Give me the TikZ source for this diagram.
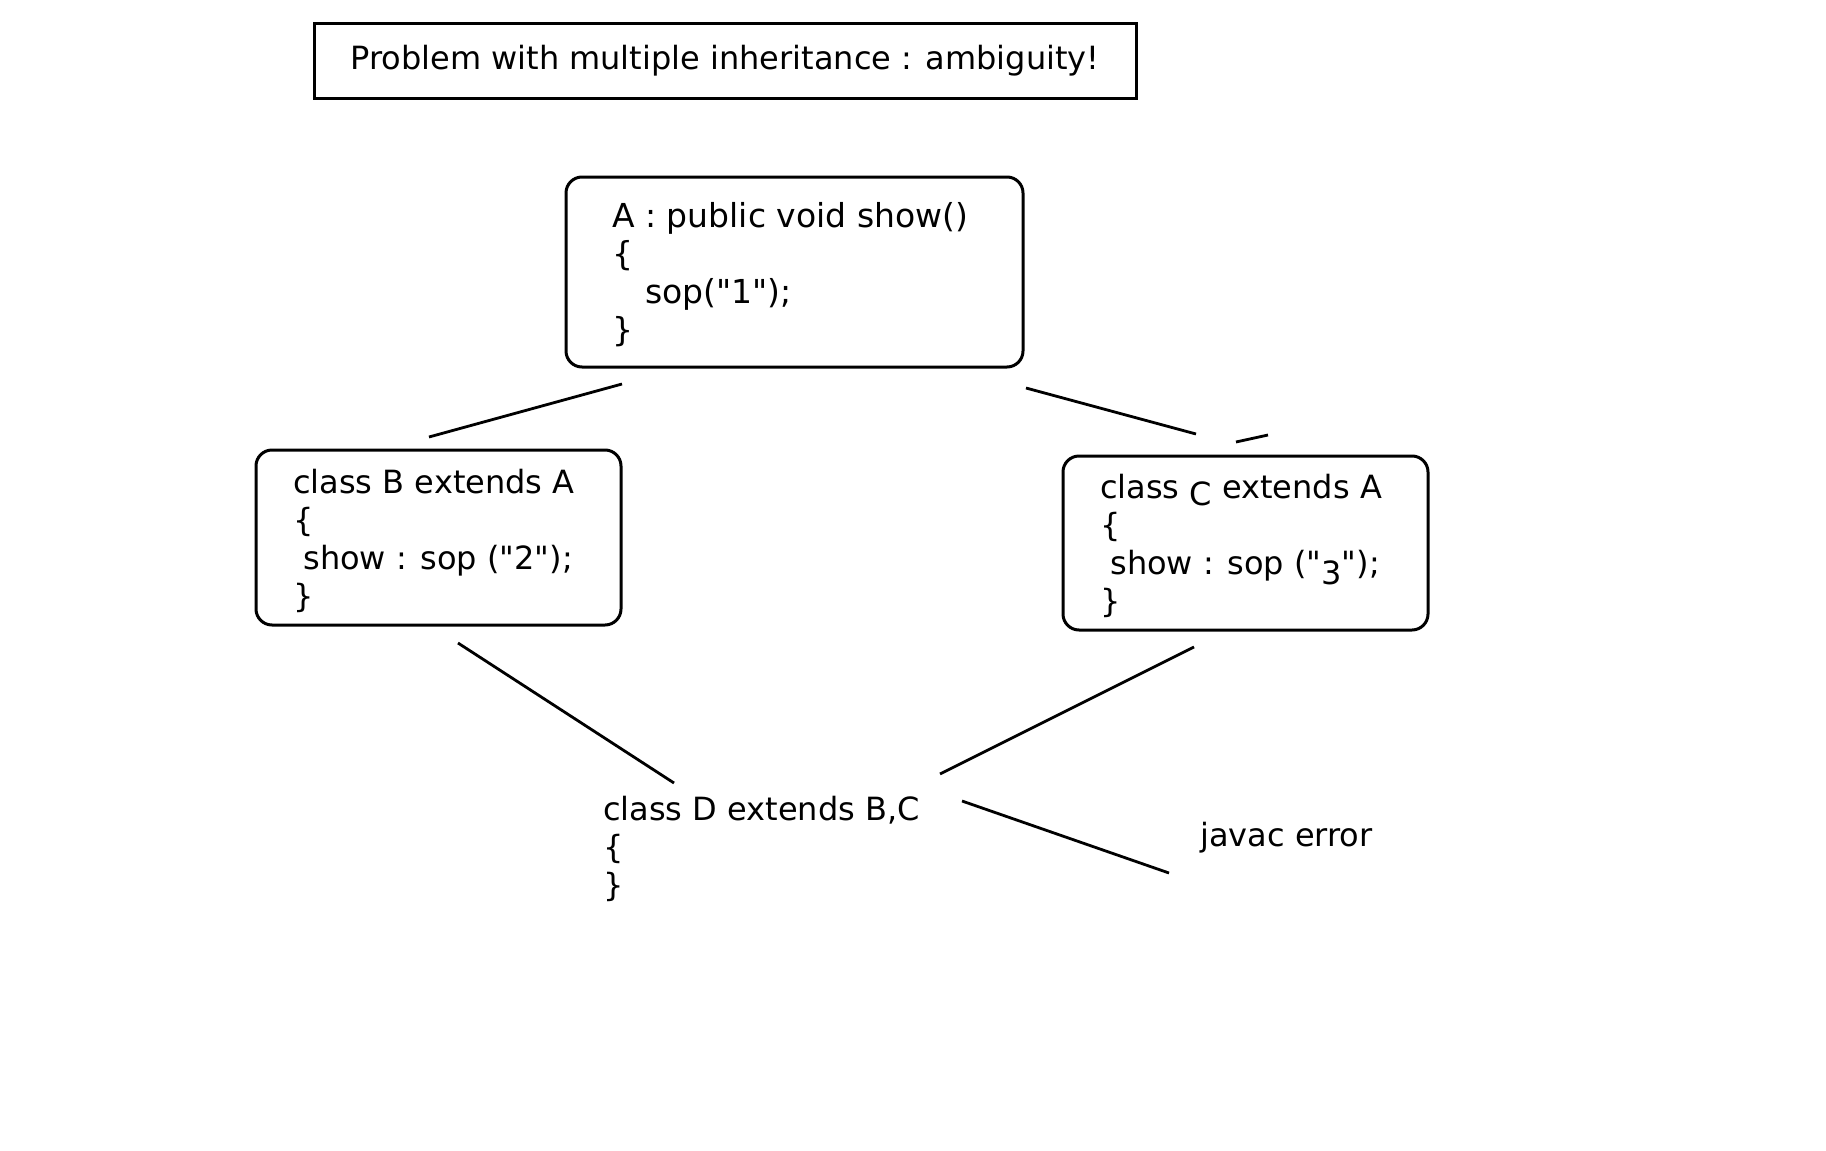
\documentclass[tikz,border=0pt]{standalone}
\usepackage{fontspec}
\setmainfont{DejaVu Sans}
\newfontfamily\codefont{DejaVu Sans}
\usetikzlibrary{positioning}

\tikzset{
    codebox/.style={draw, line width=3pt, rounded corners=16pt, inner sep=0pt},
    titlebox/.style={draw, line width=3pt, inner sep=0pt},
    code/.style={align=left, inner sep=0pt, font=\codefont\fontsize{32}{38}\selectfont},
    link/.style={line width=2.8pt},
}

\begin{document}
\begin{tikzpicture}[x=1pt, y=-1pt]
    \useasboundingbox (0,0) rectangle (1826,1151);

    \node[titlebox, minimum width=822pt, minimum height=75pt, font=\codefont\fontsize{32}{38}\selectfont] (title) at (725,61) {Problem with multiple inheritance : ambiguity!};

    % parent class (anchor is on the last line)
    \node[codebox, minimum width=457pt, minimum height=190pt] (boxA) at (794.5,272) {};
    \node[code, anchor=base west, font=\codefont\fontsize{33}{38}\selectfont] (txtA) at (612,341) {A : public void show()\\{\{}\\\hspace*{33pt}sop("1");\\{\}}};

    % the two children
    \node[codebox, minimum width=365pt, minimum height=175pt] (boxB) at (438.5,537.5) {};
    \node[code, anchor=base west] (txtB) at (293,607) {class B extends A\\{\{}\\\ show : sop ("2");\\{\}}};

    \node[codebox, minimum width=365pt, minimum height=174pt] (boxC) at (1245.5,543) {};
    \node[code, anchor=base west] (txtC) at (1100,612) {class \raisebox{-7pt}[0pt][0pt]{C} extends A\\{\{}\\\ show : sop ("\raisebox{-10pt}[0pt][0pt]{3}");\\{\}}};

    % the grandchild
    \node[code, anchor=base west] (txtD) at (603,896) {class D extends B,C\\{\{}\\{\}}};
    \node[code, anchor=base west] (err) at (1200,846) {javac error};

    \coordinate (a1) at (429,437);  \coordinate (a2) at (622,384);
    \coordinate (a3) at (1026,388); \coordinate (a4) at (1196,434);
    \coordinate (a5) at (1236,442); \coordinate (a6) at (1268,435);
    \coordinate (b1) at (458,643);  \coordinate (b2) at (674,783);
    \coordinate (c1) at (1194,647); \coordinate (c2) at (940,774);
    \coordinate (d1) at (962,801);  \coordinate (d2) at (1169,873);

    \draw[link] (a1) -- (a2);
    \draw[link] (a3) -- (a4);
    \draw[link] (a5) -- (a6);
    \draw[link] (b1) -- (b2);
    \draw[link] (c1) -- (c2);
    \draw[link] (d1) -- (d2);
\end{tikzpicture}
\end{document}
